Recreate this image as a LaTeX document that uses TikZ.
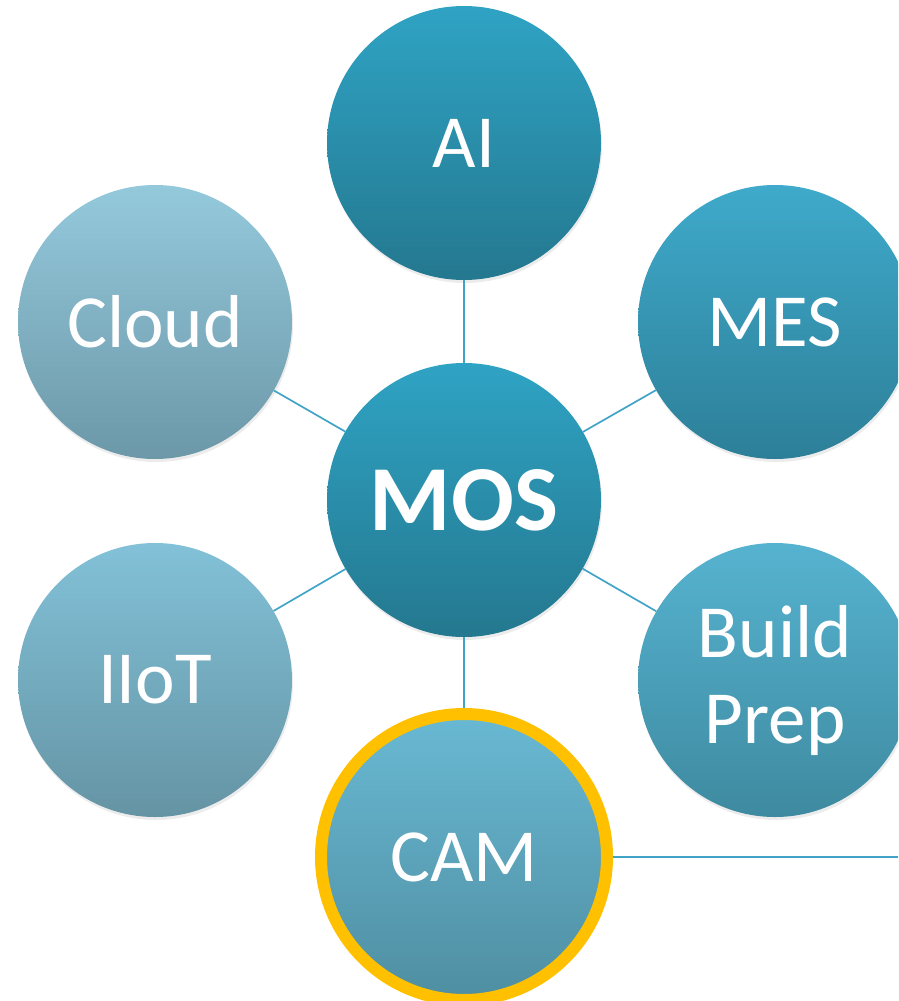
\documentclass[tikz,border=0pt]{standalone}
\usepackage{fontspec}
\setmainfont{Carlito}
\usetikzlibrary{shadows}

\definecolor{aiTop}{HTML}{2FA3C4}
\definecolor{aiBot}{HTML}{24788F}
\definecolor{mesTop}{HTML}{3FAACB}
\definecolor{mesBot}{HTML}{2D7F98}
\definecolor{cloudTop}{HTML}{94C9DC}
\definecolor{cloudBot}{HTML}{6C98A8}
\definecolor{iiotTop}{HTML}{82C1D8}
\definecolor{iiotBot}{HTML}{6594A4}
\definecolor{bpTop}{HTML}{56B3D0}
\definecolor{bpBot}{HTML}{3E8AA0}
\definecolor{camTop}{HTML}{69B9D4}
\definecolor{camBot}{HTML}{4F8EA1}
\definecolor{camRing}{HTML}{FFC000}
\definecolor{linkBlue}{HTML}{41A4C7}

\begin{document}
\begin{tikzpicture}[x=1pt,y=-1pt,
  bubble/.style={circle,minimum size=274pt,inner sep=0pt,text=white,align=center,
    font=\fontsize{75}{86}\selectfont,
    drop shadow={shadow xshift=1pt,shadow yshift=-3pt,opacity=0.15}},
  link/.style={draw=linkBlue,line width=1.7pt}]
\useasboundingbox (0,0) rectangle (898,1001);
\clip (0,0) rectangle (898,1001);
% hub
\node[bubble,top color=aiTop,bottom color=aiBot,font=\bfseries\fontsize{93}{100}\selectfont] (mos) at (464,500) {MOS};
% satellites
\foreach \name/\x/\y/\txt/\tc/\bc in {ai/464/143/AI/aiTop/aiBot,
    mes/775/322/MES/mesTop/mesBot,
    cloud/155/322/Cloud/cloudTop/cloudBot,
    iiot/155/680/IIoT/iiotTop/iiotBot,
    bp/775/680/Build\\Prep/bpTop/bpBot} {
        \node[bubble,top color=\tc,bottom color=\bc] (\name) at (\x,\y) {\txt};
        \draw[link] (mos) -- (\name);
}
\node[bubble,minimum size=286pt,top color=camTop,bottom color=camBot,draw=camRing,line width=12pt] (cam) at (464,857) {CAM};
\draw[link] (mos) -- (cam);
\coordinate (camend) at (898,857);
\draw[link] (cam) -- (camend);
\end{tikzpicture}
\end{document}
